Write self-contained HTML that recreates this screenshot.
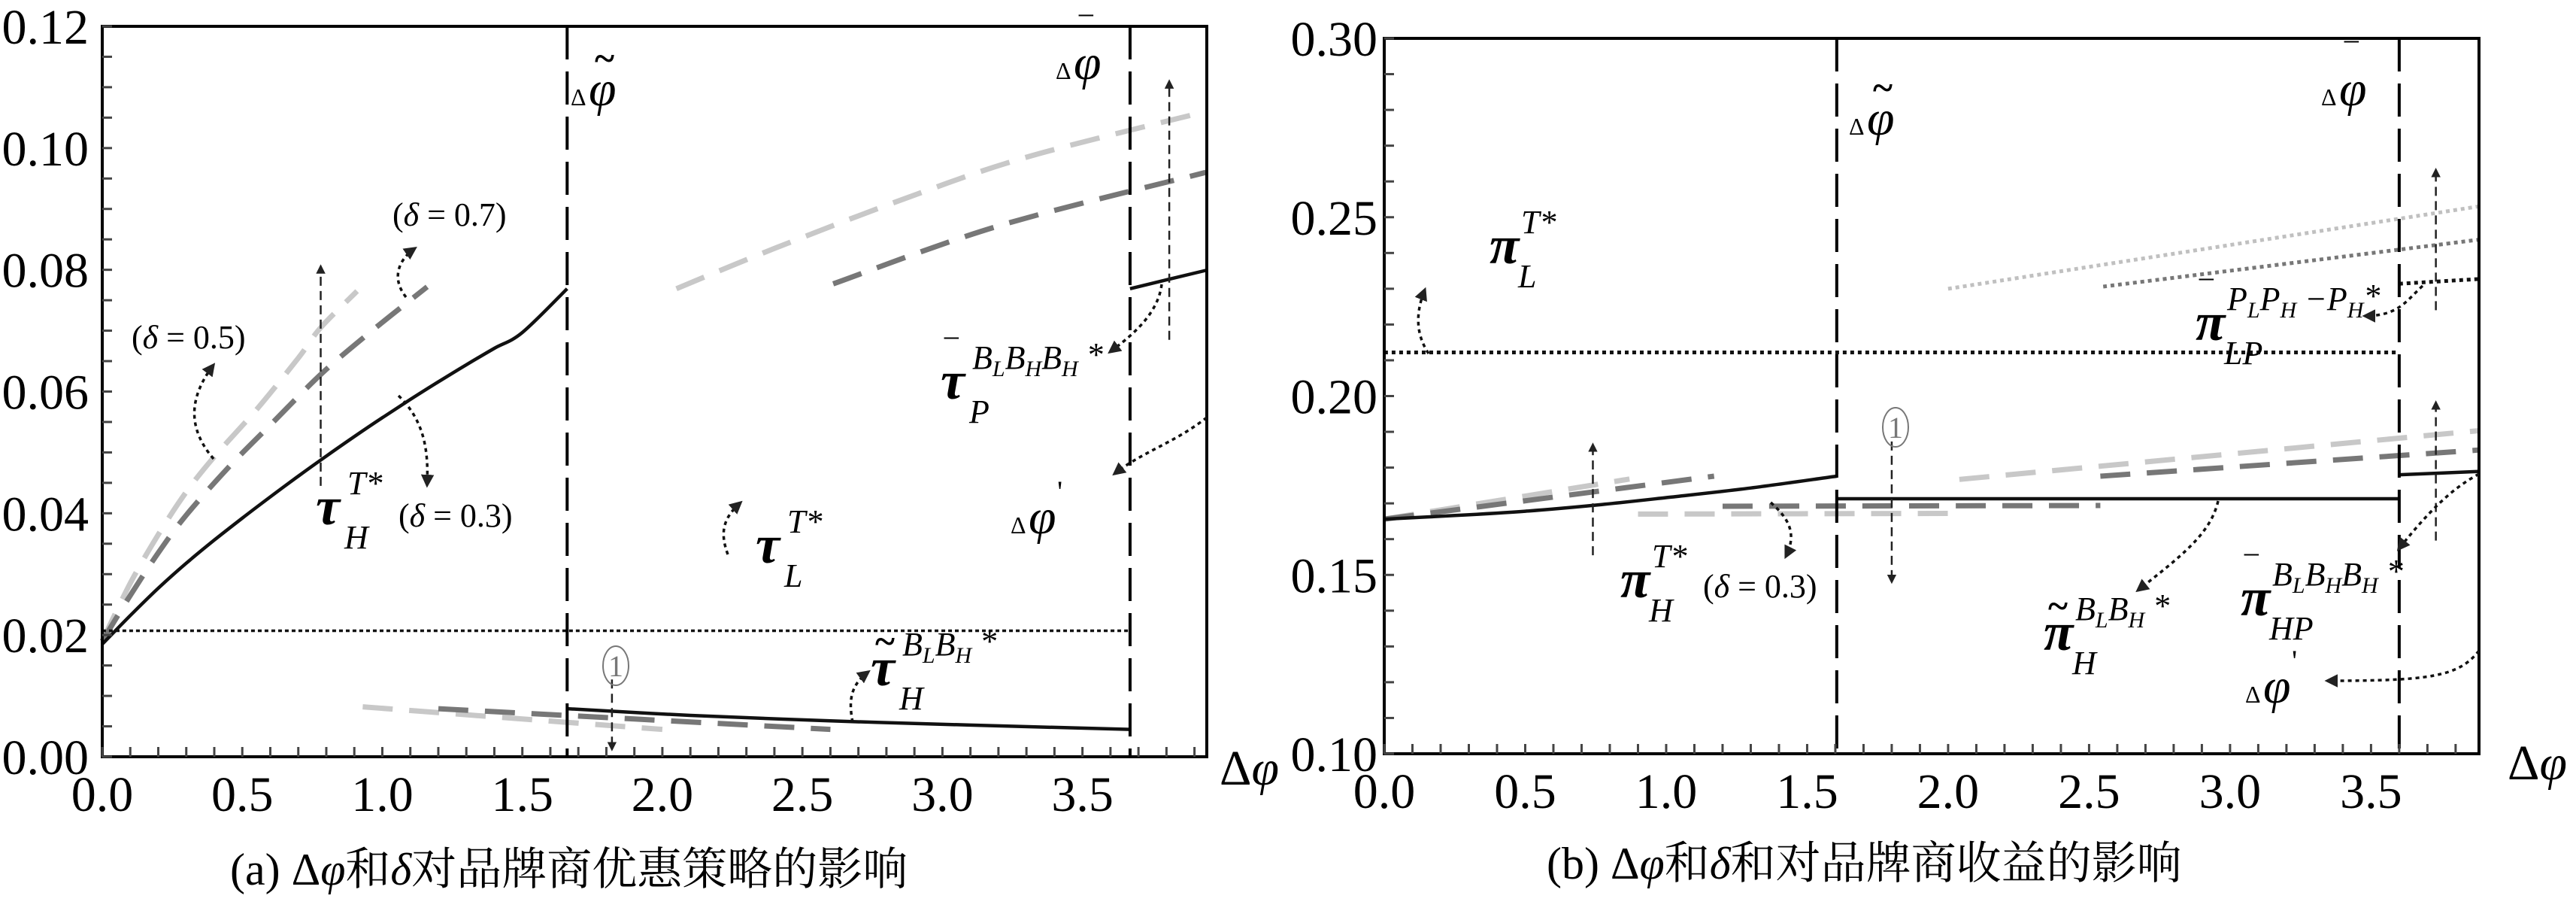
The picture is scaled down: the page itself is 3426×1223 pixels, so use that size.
<!DOCTYPE html>
<html><head><meta charset="utf-8">
<style>
html,body{margin:0;padding:0;background:#fff;}
</style></head>
<body>
<svg id="chart" width="3426" height="1218" viewBox="0 0 3426 1218" xmlns="http://www.w3.org/2000/svg" font-family="'Liberation Serif','Noto Serif CJK SC',serif">
<defs>
<marker id="ah" viewBox="0 0 10 10" refX="8" refY="5" markerWidth="5" markerHeight="5" orient="auto"><path d="M0,0 L10,5 L0,10 z" fill="#222"/></marker>
</defs>
<g id="pa"></g>
<g id="pb"></g>
</svg>
<script>
// ---------- Panel A data ----------
const aXTicks = [0, 0.5, 1.0, 1.5, 2.0, 2.5, 3.0, 3.5];
const aXTickLabels = ["0.0","0.5","1.0","1.5","2.0","2.5","3.0","3.5"];
const aYTicks = [0, 0.02, 0.04, 0.06, 0.08, 0.10, 0.12];
const aYTickLabels = ["0.00","0.02","0.04","0.06","0.08","0.10","0.12"];
const aThresholds = [1.66, 3.67];
const aTauH03X = [0, 0.1, 0.2, 0.3, 0.4, 0.5, 0.6, 0.7, 0.8, 0.9, 1.0, 1.1, 1.2, 1.3, 1.4, 1.5, 1.66];
const aTauH03Y = [0.0185, 0.0232, 0.0277, 0.0318, 0.0356, 0.0392, 0.0427, 0.0461, 0.0494, 0.0526, 0.0557, 0.0587, 0.0616, 0.0644, 0.0671, 0.0697, 0.0769];
const aTauH07X = [0, 0.1, 0.2, 0.3, 0.45, 0.6, 0.78, 0.95, 1.16];
const aTauH07Y = [0.019, 0.0265, 0.0335, 0.0397, 0.0475, 0.0545, 0.0628, 0.0695, 0.0772];
const aTauH05X = [0, 0.1, 0.2, 0.3, 0.4, 0.55, 0.7, 0.78, 0.91];
const aTauH05Y = [0.019, 0.0285, 0.0365, 0.0435, 0.0493, 0.057, 0.0655, 0.0705, 0.0765];
const aTauL = 0.0207;
const aHighLightX = [2.05, 2.4, 2.86, 3.3, 3.94];
const aHighLightY = [0.0769, 0.0835, 0.0916, 0.0985, 0.106];
const aHighDarkX = [2.61, 3.2, 3.94];
const aHighDarkY = [0.0777, 0.0872, 0.096];
const aHighSolidX = [3.67, 3.94];
const aHighSolidY = [0.0769, 0.0799];
const aLowSolidX = [1.66, 2.1, 2.6, 3.1, 3.67];
const aLowSolidY = [0.0079, 0.0068, 0.0059, 0.0052, 0.0045];
const aLowLightX = [0.93, 1.5, 2.0];
const aLowLightY = [0.0082, 0.0062, 0.0045];
const aLowDarkX = [1.2, 1.9, 2.6];
const aLowDarkY = [0.0079, 0.0062, 0.0045];

// ---------- Panel B data ----------
const bXTicks = [0, 0.5, 1.0, 1.5, 2.0, 2.5, 3.0, 3.5];
const bXTickLabels = ["0.0","0.5","1.0","1.5","2.0","2.5","3.0","3.5"];
const bYTicks = [0.10, 0.15, 0.20, 0.25, 0.30];
const bYTickLabels = ["0.10","0.15","0.20","0.25","0.30"];
const bThresholds = [1.605, 3.6];
const bPiL = 0.2122;
const bPiHX = [0, 0.25, 0.5, 0.75, 1.0, 1.3, 1.605];
const bPiHY = [0.1656, 0.1666, 0.1678, 0.1695, 0.1716, 0.1743, 0.1776];
const bEarlyLightX = [0, 0.87];
const bEarlyLightY = [0.1656, 0.1768];
const bEarlyDarkX = [0, 1.17];
const bEarlyDarkY = [0.1656, 0.1776];
const bMidSolidX = [1.605, 3.6];
const bMidSolidY = [0.1713, 0.1713];
const bMidLightX = [0.9, 2.04];
const bMidLightY = [0.167, 0.1672];
const bMidDarkX = [1.2, 2.54];
const bMidDarkY = [0.1692, 0.1694];
const bRightSolidX = [3.6, 3.88];
const bRightSolidY = [0.178, 0.1789];
const bRightLightX = [2.04, 3.88];
const bRightLightY = [0.1767, 0.1903];
const bRightDarkX = [2.54, 3.88];
const bRightDarkY = [0.1776, 0.1849];
const bDotLightX = [2.0, 3.88];
const bDotLightY = [0.230, 0.253];
const bDotDarkX = [2.55, 3.88];
const bDotDarkY = [0.2306, 0.2437];
const bDotBlackX = [3.6, 3.88];
const bDotBlackY = [0.2314, 0.2327];

const NS = "http://www.w3.org/2000/svg";
function mk(parent, tag, attrs){const e=document.createElementNS(NS,tag);for(const k in attrs)e.setAttribute(k,attrs[k]);parent.appendChild(e);return e;}
function makeAxes(L, R, T, B, x0, x1, y0, y1){
  return {sx: v => L + (v - x0) / (x1 - x0) * (R - L), sy: v => B - (v - y0) / (y1 - y0) * (B - T)};
}
function poly(g, sx, sy, xs, ys, style, name){
  const pts = xs.map((x, i) => [sx(x), sy(ys[i])]);
  let d = "M" + pts[0][0].toFixed(1) + "," + pts[0][1].toFixed(1);
  for (let i = 1; i < pts.length; i++) {
    const p0 = pts[Math.max(i - 2, 0)], p1 = pts[i - 1], p2 = pts[i], p3 = pts[Math.min(i + 1, pts.length - 1)];
    const c1 = [p1[0] + (p2[0] - p0[0]) / 6, p1[1] + (p2[1] - p0[1]) / 6];
    const c2 = [p2[0] - (p3[0] - p1[0]) / 6, p2[1] - (p3[1] - p1[1]) / 6];
    d += "C" + c1.map(v => v.toFixed(1)).join(",") + " " + c2.map(v => v.toFixed(1)).join(",") + " " + p2[0].toFixed(1) + "," + p2[1].toFixed(1);
  }
  const p = mk(g, "path", Object.assign({d: d, fill: "none"}, style));
  
  
  return p;
}
function txt(g, x, y, s, size, name, extra){
  const t = mk(g, "text", Object.assign({x: x, y: y, "font-size": size}, extra || {}));
  t.innerHTML = s;
  
  
  return t;
}
// math label: base symbol with optional accent, superscript and subscript
function mathLabel(g, x, y, base, accent, sup, sub, name){
  txt(g, x, y, base, 72, name, {"font-style": "italic", "font-weight": "bold"});
  if (accent) txt(g, x + 6, y - 42, accent, 50, name + '-accent', {"font-weight": "bold"});
  if (sup) txt(g, x + 42, y - 40, sup, 44, name + '-sup', {"font-style": "italic"});
  if (sub) txt(g, x + 38, y + 32, sub, 44, name + '-sub', {"font-style": "italic"});
}
function phiLabel(g, x, y, accent, name){
  txt(g, x, y, "Δ", 32, name + '-delta');
  txt(g, x + 24, y, "φ", 66, name, {"font-style": "italic"});
  if (accent === "'") txt(g, x + 62, y - 42, "'", 40, name + '-prime');
  else if (accent) txt(g, x + 32, y - 46, accent, 50, name + '-accent', {"font-weight": "bold"});
}
function frame(g, L, R, T, B, sx, sy, xTicks, xLabels, yTicks, yLabels, xMinor, xMax, yMinor, y0, y1, labelRight){
  const f = mk(g, "rect", {x: L, y: T, width: R - L, height: B - T, fill: "none", stroke: "#000", "stroke-width": 4});
  
  
  for (let v = 0; v <= xMax + 1e-9; v += xMinor) {
    const x = sx(v);
    const t = mk(g, "line", {x1: x, x2: x, y1: B, y2: B - 13, stroke: "#444", "stroke-width": 3});
    
    
  }
  for (let v = y0; v <= y1 + 1e-9; v += yMinor) {
    const y = sy(v);
    const t = mk(g, "line", {x1: L, x2: L + 13, y1: y, y2: y, stroke: "#444", "stroke-width": 3});
    
    
  }
  xTicks.forEach((v, i) => txt(g, sx(v), B + 72, xLabels[i], 66, 'x-tick-label', {"text-anchor": "middle"}));
  yTicks.forEach((v, i) => txt(g, labelRight, sy(v) + 23, yLabels[i], 66, 'y-tick-label', {"text-anchor": "end"}));
}
function vdash(g, x, T, B, name){
  const l = mk(g, "line", {x1: x, x2: x, y1: T, y2: B, stroke: "#000", "stroke-width": 4, "stroke-dasharray": "44 16"});
  
  
}
function arrowLine(g, x1, y1, x2, y2, name){
  const l = mk(g, "line", {x1: x1, y1: y1, x2: x2, y2: y2, stroke: "#222", "stroke-width": 2.5, "stroke-dasharray": "12 7", "marker-end": "url(#ah)"});
  
  
}
function curveArrow(g, d, name){
  const p = mk(g, "path", {d: d, fill: "none", stroke: "#111", "stroke-width": 3.5, "stroke-dasharray": "5 5", "marker-end": "url(#ah)"});
  
  
}
function circled(g, x, y, name){
  const e = mk(g, "ellipse", {cx: x, cy: y, rx: 17, ry: 26, fill: "none", stroke: "#777", "stroke-width": 2});
  
  
  txt(g, x, y + 14, "1", 40, name + '-text', {"text-anchor": "middle", fill: "#777"});
}
const LIGHT = {stroke: "#c8c8c8", "stroke-width": 7, "stroke-dasharray": "40 22"};
const DARK = {stroke: "#777", "stroke-width": 7, "stroke-dasharray": "40 22"};
const SOLID = {stroke: "#111", "stroke-width": 4.5};
const SUP_BLBH = "B<tspan font-size='30' dy='10'>L</tspan><tspan dy='-10'>B</tspan><tspan font-size='30' dy='10'>H</tspan><tspan dy='-14'> *</tspan>";
const SUP_BLBHBH = "B<tspan font-size='30' dy='10'>L</tspan><tspan dy='-10'>B</tspan><tspan font-size='30' dy='10'>H</tspan><tspan dy='-10'>B</tspan><tspan font-size='30' dy='10'>H</tspan><tspan dy='-14'> *</tspan>";

// ---------- Panel A ----------
(function(){
  const g = document.getElementById("pa");
  const L = 136, R = 1605, T = 35, B = 1006;
  const {sx, sy} = makeAxes(L, R, T, B, 0, 3.944, 0, 0.12);
  poly(g, sx, sy, aTauH05X, aTauH05Y, LIGHT, 'tau-h-delta-0.5');
  poly(g, sx, sy, aTauH07X, aTauH07Y, DARK, 'tau-h-delta-0.7');
  poly(g, sx, sy, aTauH03X, aTauH03Y, SOLID, 'tau-h-delta-0.3');
  poly(g, sx, sy, [0, aThresholds[1]], [aTauL, aTauL], {stroke: "#111", "stroke-width": 3.5, "stroke-dasharray": "5 4"}, 'tau-l-line');
  poly(g, sx, sy, aHighLightX, aHighLightY, LIGHT, 'tau-p-delta-0.5');
  poly(g, sx, sy, aHighDarkX, aHighDarkY, DARK, 'tau-p-delta-0.7');
  poly(g, sx, sy, aHighSolidX, aHighSolidY, SOLID, 'tau-p-delta-0.3');
  poly(g, sx, sy, aLowLightX, aLowLightY, LIGHT, 'tau-h-tilde-delta-0.5');
  poly(g, sx, sy, aLowDarkX, aLowDarkY, DARK, 'tau-h-tilde-delta-0.7');
  poly(g, sx, sy, aLowSolidX, aLowSolidY, SOLID, 'tau-h-tilde-delta-0.3');
  aThresholds.forEach((v, i) => vdash(g, sx(v), T, B, 'threshold-line-' + (i + 1)));
  frame(g, L, R, T, B, sx, sy, aXTicks, aXTickLabels, aYTicks, aYTickLabels, 0.1, 3.94, 0.005, 0, 0.12, 118);
  arrowLine(g, sx(0.78), sy(0.0445), sx(0.78), sy(0.0806), 'delta-increase-arrow');
  arrowLine(g, sx(3.81), sy(0.0685), sx(3.81), sy(0.111), 'delta-increase-arrow-right');
  arrowLine(g, sx(1.82), sy(0.0127), sx(1.82), sy(0.0012), 'decrease-arrow-1');
  circled(g, 819, 885, 'circle-1');
  curveArrow(g, "M284,610 C250,570 250,530 284,485", 'arrow-delta-05');
  curveArrow(g, "M540,395 C520,370 530,345 552,330", 'arrow-delta-07');
  curveArrow(g, "M530,526 C565,560 570,600 568,645", 'arrow-delta-03');
  curveArrow(g, "M968,737 C958,710 960,690 985,668", 'arrow-tau-l');
  curveArrow(g, "M1134,960 C1128,930 1132,910 1155,893", 'arrow-tau-h-tilde');
  curveArrow(g, "M1545,378 C1540,420 1500,450 1476,468", 'arrow-tau-p');
  curveArrow(g, "M1605,555 C1560,590 1520,600 1482,630", 'arrow-dphi-prime');
  txt(g, 522, 300, "(<tspan font-style='italic'>δ</tspan> = 0.7)", 44, 'label-delta-0.7');
  txt(g, 175, 463, "(<tspan font-style='italic'>δ</tspan> = 0.5)", 44, 'label-delta-0.5');
  mathLabel(g, 420, 697, "τ", "", "T*", "H", 'label-tau-h-t');
  txt(g, 530, 700, "(<tspan font-style='italic'>δ</tspan> = 0.3)", 44, 'label-delta-0.3');
  phiLabel(g, 759, 140, "~", 'label-phi-tilde');
  phiLabel(g, 1404, 105, "‾", 'label-phi-bar');
  mathLabel(g, 1005, 748, "τ", "", "T*", "L", 'label-tau-l-t');
  mathLabel(g, 1158, 911, "τ", "~", SUP_BLBH, "H", 'label-tau-h-tilde');
  mathLabel(g, 1251, 530, "τ", "‾", SUP_BLBHBH, "P", 'label-tau-p-bar');
  phiLabel(g, 1344, 709, "'", 'label-phi-prime');
  txt(g, 1622, 1043, "Δ<tspan font-style='italic'>φ</tspan>", 66, 'x-axis-title');
  txt(g, 306, 1176, "(a) Δ<tspan font-style='italic'>φ</tspan>和<tspan font-style='italic'>δ</tspan>对品牌商优惠策略的影响", 60, 'caption-a');
})();

// ---------- Panel B ----------
(function(){
  const g = document.getElementById("pb");
  const L = 1841, R = 3297, T = 51, B = 1002;
  const {sx, sy} = makeAxes(L, R, T, B, 0, 3.883, 0.10, 0.30);
  const DOT = (c) => ({stroke: c, "stroke-width": 5, "stroke-dasharray": "5 5"});
  poly(g, sx, sy, [0, bThresholds[1]], [bPiL, bPiL], DOT("#111"), 'pi-l-line');
  poly(g, sx, sy, bEarlyLightX, bEarlyLightY, LIGHT, 'pi-h-delta-0.5');
  poly(g, sx, sy, bEarlyDarkX, bEarlyDarkY, DARK, 'pi-h-delta-0.7');
  poly(g, sx, sy, bPiHX, bPiHY, SOLID, 'pi-h-delta-0.3');
  poly(g, sx, sy, bMidLightX, bMidLightY, LIGHT, 'pi-h-tilde-delta-0.5');
  poly(g, sx, sy, bMidDarkX, bMidDarkY, DARK, 'pi-h-tilde-delta-0.7');
  poly(g, sx, sy, bMidSolidX, bMidSolidY, SOLID, 'pi-h-tilde-delta-0.3');
  poly(g, sx, sy, bRightLightX, bRightLightY, LIGHT, 'pi-hp-delta-0.5');
  poly(g, sx, sy, bRightDarkX, bRightDarkY, DARK, 'pi-hp-delta-0.7');
  poly(g, sx, sy, bRightSolidX, bRightSolidY, SOLID, 'pi-hp-delta-0.3');
  poly(g, sx, sy, bDotLightX, bDotLightY, DOT("#c0c0c0"), 'pi-lp-delta-0.5');
  poly(g, sx, sy, bDotDarkX, bDotDarkY, DOT("#777"), 'pi-lp-delta-0.7');
  poly(g, sx, sy, bDotBlackX, bDotBlackY, DOT("#111"), 'pi-lp-delta-0.3');
  bThresholds.forEach((v, i) => vdash(g, sx(v), T, B, 'threshold-line-b-' + (i + 1)));
  frame(g, L, R, T, B, sx, sy, bXTicks, bXTickLabels, bYTicks, bYTickLabels, 0.1, 3.88, 0.01, 0.10, 0.30, 1832);
  arrowLine(g, sx(0.74), sy(0.1555), sx(0.74), sy(0.1865), 'delta-increase-arrow-b');
  arrowLine(g, sx(1.8), sy(0.1873), sx(1.8), sy(0.148), 'decrease-arrow-b');
  arrowLine(g, sx(3.73), sy(0.224), sx(3.73), sy(0.2633), 'increase-arrow-lp');
  arrowLine(g, sx(3.73), sy(0.1596), sx(3.73), sy(0.1983), 'increase-arrow-hp');
  circled(g, 2521, 568, 'circle-1-b');
  curveArrow(g, "M1900,470 C1880,440 1885,410 1895,385", 'arrow-pi-l');
  curveArrow(g, "M2355,668 C2380,690 2390,710 2375,740", 'arrow-pi-h');
  curveArrow(g, "M2950,666 C2940,710 2900,740 2843,785", 'arrow-pi-h-tilde');
  curveArrow(g, "M3297,630 C3260,650 3230,680 3190,730", 'arrow-pi-hp');
  curveArrow(g, "M3222,380 C3200,400 3190,420 3145,420", 'arrow-pi-lp');
  curveArrow(g, "M3297,865 C3270,900 3230,905 3095,905", 'arrow-dphi-prime-b');
  mathLabel(g, 1981, 350, "π", "", "T*", "L", 'label-pi-l-t');
  phiLabel(g, 2459, 179, "~", 'label-phi-tilde-b');
  phiLabel(g, 3087, 140, "‾", 'label-phi-bar-b');
  mathLabel(g, 2920, 452, "π", "‾", "P<tspan font-size='30' dy='10'>L</tspan><tspan dy='-10'>P</tspan><tspan font-size='30' dy='10'>H</tspan><tspan dy='-10'> −P</tspan><tspan font-size='30' dy='10'>H</tspan><tspan dy='-14'>*</tspan>", "LP", 'label-pi-lp-bar');
  mathLabel(g, 2155, 794, "π", "", "T*", "H", 'label-pi-h-t');
  txt(g, 2265, 794, "(<tspan font-style='italic'>δ</tspan> = 0.3)", 44, 'label-delta-0.3-b');
  mathLabel(g, 2718, 864, "π", "~", SUP_BLBH, "H", 'label-pi-h-tilde');
  mathLabel(g, 2980, 818, "π", "‾", SUP_BLBHBH, "HP", 'label-pi-hp-bar');
  phiLabel(g, 2986, 934, "'", 'label-phi-prime-b');
  txt(g, 3335, 1036, "Δ<tspan font-style='italic'>φ</tspan>", 66, 'x-axis-title-b');
  txt(g, 2057, 1168, "(b) Δ<tspan font-style='italic'>φ</tspan>和<tspan font-style='italic'>δ</tspan>和对品牌商收益的影响", 60, 'caption-b');
})();
</script>
</body></html>
